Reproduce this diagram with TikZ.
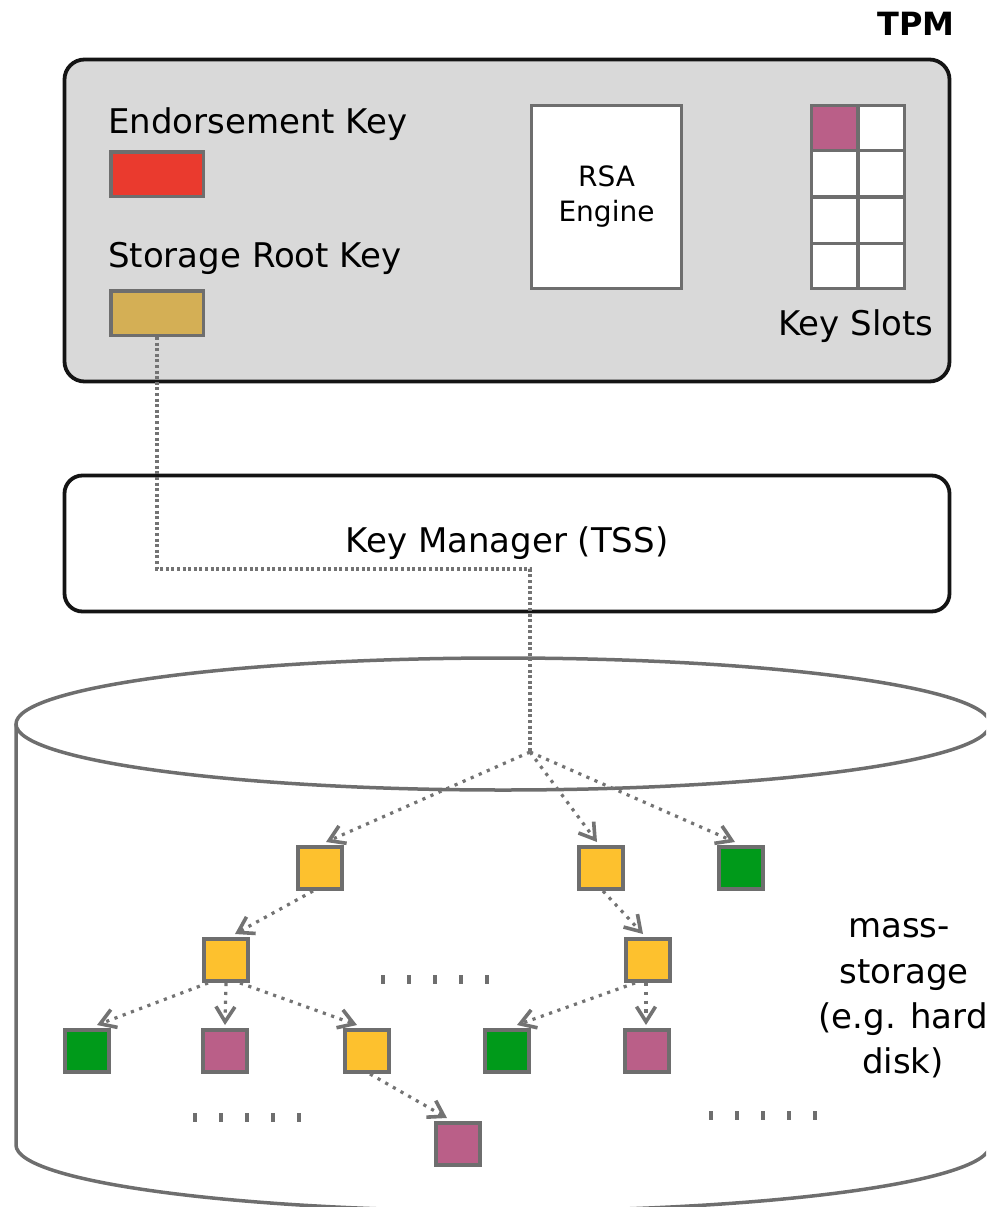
\documentclass[tikz,border=0pt]{standalone}
\usepackage{fontspec}
\setmainfont{DejaVu Sans}
\usetikzlibrary{arrows.meta}

\definecolor{tpmfill}{RGB}{217,217,217}
\definecolor{ekred}{RGB}{234,58,46}
\definecolor{srkgold}{RGB}{212,175,85}
\definecolor{keyyellow}{RGB}{253,193,46}
\definecolor{keygreen}{RGB}{0,154,26}
\definecolor{keypink}{RGB}{186,95,136}
\definecolor{edgegray}{RGB}{110,110,110}
\definecolor{linkgray}{RGB}{115,115,115}
\definecolor{framedark}{RGB}{20,20,20}

\begin{document}
\begin{tikzpicture}[x=1pt,y=-1pt,
  frame/.style={draw=framedark,line width=3.8pt,rounded corners=20pt,inner sep=0pt},
  lbl/.style={inner sep=0pt,font=\fontsize{34}{41}\selectfont},
  keybox/.style={draw=edgegray,line width=4pt,minimum width=44pt,minimum height=42pt,inner sep=0pt},
  widekey/.style={draw=edgegray,line width=3.5pt,minimum width=92.5pt,minimum height=44.5pt,inner sep=0pt},
  slotline/.style={draw=edgegray,line width=3.5pt},
  cyl/.style={draw=edgegray,line width=3.5pt},
  dotlink/.style={draw=linkgray,line width=3.2pt,dash pattern=on 3pt off 2.6pt},
  dotarrow/.style={draw=linkgray,line width=3.2pt,dash pattern=on 3.2pt off 5.6pt,
                   -{Straight Barb[length=15pt,width=19pt,line width=3.6pt]}},
  gap/.style={fill=edgegray,minimum width=4.5pt,minimum height=9pt,inner sep=0pt}
]
\useasboundingbox (0,0) rectangle (986,1207);
\clip (0,0) rectangle (986,1207);

% ---------- TPM chip ----------
\node[anchor=base east,inner sep=0pt,font=\fontsize{32}{38}\selectfont\bfseries] (tpmlbl) at (955,36) {TPM};
\node[frame,fill=tpmfill,minimum width=885pt,minimum height=322pt] (tpm) at (507,220.5) {};

\node[lbl,anchor=base west] (eklbl) at (108,133) {Endorsement Key};
\node[widekey,fill=ekred] (ek) at (157,174) {};
\node[lbl,anchor=base west] (srklbl) at (108,267) {Storage Root Key};
\node[widekey,fill=srkgold] (srk) at (157,313) {};

\node[draw=edgegray,line width=3.5pt,fill=white,minimum width=150pt,minimum height=183pt,
      inner sep=0pt,align=center,font=\fontsize{28}{35}\selectfont] (rsa) at (606.5,197) {RSA\\Engine};

% key slots: 2 x 4 grid, first slot occupied
\node[fill=white,minimum width=93pt,minimum height=183pt,inner sep=0pt,outer sep=0pt] (slots) at (858,197) {};
\fill[keypink] (811.5,105.5) rectangle (858,150.5);
\draw[slotline] (slots.north) -- (slots.south);
\foreach \yy in {150.5,197,243.5}
  \draw[slotline] (slots.west |- 0,\yy) -- (slots.east |- 0,\yy);
\draw[slotline] (slots.north west) rectangle (slots.south east);
\node[lbl,anchor=base] (slotlbl) at (856,335) {Key Slots};

% ---------- key manager ----------
\node[frame,fill=white,rounded corners=18pt,minimum width=885pt,minimum height=136pt,
      font=\fontsize{34}{41}\selectfont] (km) at (507,543.5) {Key Manager (TSS)};

% ---------- mass storage cylinder ----------
\draw[cyl] (503,724) ellipse[x radius=487,y radius=66];
\draw[cyl] (16,724) -- (16,1145) arc[start angle=180,end angle=0,x radius=487,y radius=66] -- (990,724);

\node[lbl,anchor=base] (ms1) at (899,937) {mass-};
\node[lbl,anchor=base] (ms2) at (904,983) {storage};
\node[lbl,anchor=base] (ms3) at (903,1028) {(e.g. hard};
\node[lbl,anchor=base] (ms4) at (903,1073) {disk)};

% stored key blobs
\node[keybox,fill=keyyellow] (y1) at (320,868) {};
\node[keybox,fill=keyyellow] (y2) at (601,868) {};
\node[keybox,fill=keygreen]  (g1) at (741,868) {};
\node[keybox,fill=keyyellow] (y3) at (226,960) {};
\node[keybox,fill=keyyellow] (y4) at (648,960) {};
\node[keybox,fill=keygreen]  (g2) at (87,1051) {};
\node[keybox,fill=keypink]   (p1) at (225,1051) {};
\node[keybox,fill=keyyellow] (y5) at (367,1051) {};
\node[keybox,fill=keygreen]  (g3) at (507,1051) {};
\node[keybox,fill=keypink]   (p2) at (647,1051) {};
\node[keybox,fill=keypink]   (p3) at (458,1144) {};

% ellipsis marks
\foreach \xx in {383,409,435,461,487} \node[gap] at (\xx,979) {};
\foreach \xx in {195,221,247,273,299} \node[gap] at (\xx,1117) {};
\foreach \xx in {711,737,763,789,815} \node[gap] at (\xx,1115) {};

% ---------- key hierarchy links ----------
\coordinate (bend) at (530,569);
\coordinate (root) at (530,752);
\draw[dotlink] (srk.south) |- (bend) -- (root);

\draw[dotarrow] (root) -- ([xshift=6pt,yshift=3pt]y1.north);
\draw[dotarrow] (root) -- ([xshift=-4pt,yshift=3pt]y2.north);
\draw[dotarrow] (root) -- ([xshift=-6pt,yshift=3pt]g1.north);

\draw[dotarrow] ([xshift=-7pt]y1.south) -- ([xshift=9pt,yshift=3pt]y3.north);
\draw[dotarrow] ([xshift=2pt]y2.south) -- ([xshift=-5pt,yshift=3pt]y4.north);

\draw[dotarrow] ([xshift=-18pt]y3.south) -- ([xshift=10pt,yshift=3pt]g2.north);
\draw[dotarrow] (y3.south) -- ([yshift=3pt]p1.north);
\draw[dotarrow] ([xshift=14pt]y3.south) -- ([xshift=-10pt,yshift=3pt]y5.north);

\draw[dotarrow] ([xshift=-13pt]y4.south) -- ([xshift=10pt,yshift=3pt]g3.north);
\draw[dotarrow] ([xshift=-2pt]y4.south) -- ([xshift=-1pt,yshift=3pt]p2.north);

\draw[dotarrow] ([xshift=3pt]y5.south) -- ([xshift=-11pt,yshift=3pt]p3.north);
\end{tikzpicture}
\end{document}
